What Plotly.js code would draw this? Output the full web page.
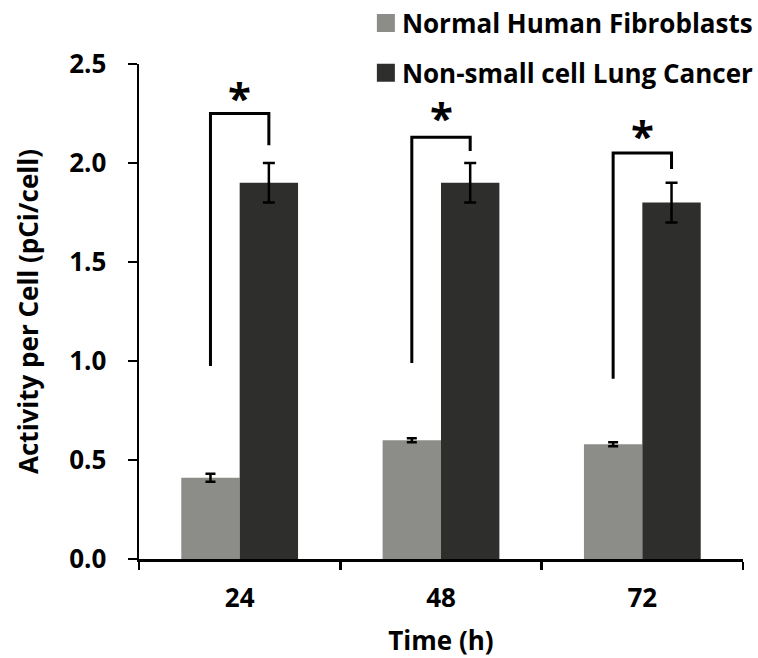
<!DOCTYPE html>
<html>
<head>
<meta charset="utf-8">
<script src="https://cdn.plot.ly/plotly-3.0.1.min.js"></script>
<style>html,body{margin:0;padding:0;background:#fff;}#chart{width:758px;height:658px;}</style>
</head>
<body>
<div id="chart"></div>
<script>
// ---- data ----
const timeLabels = ["24", "48", "72"];
const fibroValues = [0.41, 0.60, 0.58];
const fibroErrors = [0.02, 0.01, 0.01];
const cancerValues = [1.90, 1.90, 1.80];
const cancerErrors = [0.10, 0.10, 0.10];
const seriesNames = ["Normal Human Fibroblasts", "Non-small cell Lung Cancer"];
// significance brackets (data units)
const bracketTop = [2.25, 2.13, 2.05];
const bracketLeftBottom = [0.975, 0.99, 0.91];
const bracketRightBottom = [2.09, 2.06, 1.97];
const starY = [2.36, 2.26, 2.17];
const starLabels = ["*", "*", "*"];

const FONT = "Open Sans, Noto Sans, sans-serif";
const FS = 26;
const lightColor = "#8c8d89";
const darkColor = "#2e2e2c";
const off = 0.145;

const traces = [
  {
    type: "bar", x: timeLabels, y: fibroValues, name: seriesNames[0],
    legendgroup: "a",
    marker: {color: lightColor},
    error_y: {type: "data", array: fibroErrors, visible: true, color: "#000", thickness: 2.5, width: 5}
  },
  {
    type: "bar", x: timeLabels, y: cancerValues, name: seriesNames[1],
    legendgroup: "b",
    marker: {color: darkColor},
    error_y: {type: "data", array: cancerErrors, visible: true, color: "#000", thickness: 2.5, width: 6}
  }
];

const shapes = [];
const annotations = [];
timeLabels.forEach((t, i) => {
  shapes.push({
    type: "path", xref: "x", yref: "y",
    path: `M ${i - off},${bracketLeftBottom[i]} L ${i - off},${bracketTop[i]} L ${i + off},${bracketTop[i]} L ${i + off},${bracketRightBottom[i]}`,
    line: {color: "#000", width: 3}
  });
  annotations.push({
    xref: "x", yref: "y", x: i, y: starY[i], text: starLabels[i], showarrow: false,
    yanchor: "middle", yshift: -5,
    font: {family: FONT, size: 42, color: "#000", weight: 700}
  });
});

const layout = {
  width: 758, height: 658,
  margin: {l: 139, r: 15, t: 64, b: 99, autoexpand: false},
  paper_bgcolor: "#fff", plot_bgcolor: "#fff",
  font: {family: FONT, size: FS, color: "#000", weight: 700},
  barmode: "group", bargap: 0.42, bargroupgap: 0,
  showlegend: true,
  legend: {
    x: 0.369, y: 1.13, xanchor: "left", yanchor: "top",
    font: {family: FONT, size: FS, color: "#000", weight: 700},
    traceorder: "grouped", tracegroupgap: 13, itemwidth: 30,
    bgcolor: "rgba(0,0,0,0)"
  },
  xaxis: {
    type: "category", showline: true, linecolor: "#000", linewidth: 2.5,
    ticks: "outside", tickson: "boundaries", ticklen: 8, tickwidth: 2.5, tickcolor: "#000",
    showgrid: false, zeroline: false, range: [-0.5, 2.5],
    tickfont: {family: FONT, size: FS, color: "#000", weight: 700},
    ticklabelstandoff: 14,
    title: {text: "Time (h)", font: {family: FONT, size: FS, color: "#000", weight: 700}, standoff: 19}
  },
  yaxis: {
    range: [0, 2.5], dtick: 0.5, tick0: 0, tickformat: ".1f",
    showline: true, linecolor: "#000", linewidth: 2.5,
    ticks: "outside", ticklen: 9, tickwidth: 2.5, tickcolor: "#000",
    showgrid: false, zeroline: false,
    tickfont: {family: FONT, size: FS, color: "#000", weight: 700},
    ticklabelstandoff: 16,
    title: {text: "Activity per Cell (pCi/cell)", font: {family: FONT, size: FS, color: "#000", weight: 700}, standoff: 23}
  },
  shapes: shapes,
  annotations: annotations
};

function enlargeLegendSymbols() {
  document.querySelectorAll("#chart .legend .legendpoints path").forEach(p => {
    if (!p.hasAttribute("data-orig-t")) {
      p.setAttribute("data-orig-t", p.getAttribute("transform") || "");
    }
    p.setAttribute("transform", (p.getAttribute("data-orig-t") + " translate(4,0) scale(1.5)").trim());
  });
}

Plotly.newPlot("chart", traces, layout, {displayModeBar: false, staticPlot: true}).then(gd => {
  enlargeLegendSymbols();
  gd.on("plotly_afterplot", enlargeLegendSymbols);
});
</script>
</body>
</html>
